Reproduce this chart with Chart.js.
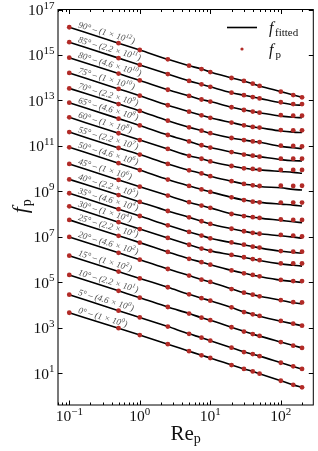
<!DOCTYPE html>
<html>
<head>
<meta charset="utf-8">
<script src="https://cdn.jsdelivr.net/npm/chart.js@4.4.0/dist/chart.umd.min.js"></script>
<style>
  html, body { margin: 0; padding: 0; background: #fff; }
  canvas { display: block; }
</style>
</head>
<body>
<canvas id="chart" width="318" height="451"></canvas>
<script>
// particle Reynolds numbers (x of every point)
const reP = [0.1, 0.5, 1, 2.5, 5, 7.5, 10, 20, 30, 40, 50, 100, 150, 200];

// inclination angles and the vertical shift used to separate the curves
const angles = [0, 5, 10, 15, 20, 25, 30, 35, 40, 45, 50, 55, 60, 65, 70, 75, 80, 85, 90];
const shiftMant = [1, 4.6, 2.2, 1, 4.6, 2.2, 1, 4.6, 2.2, 1, 4.6, 2.2, 1, 4.6, 2.2, 1, 4.6, 2.2, 1];
const shiftExp = [0, 0, 1, 2, 2, 3, 4, 4, 5, 6, 6, 7, 8, 8, 9, 10, 10, 11, 12];

// log10 of f_p (before the shift), one row per angle
const fpLog = [
  [3.67, 2.99, 2.69, 2.29, 1.98, 1.80, 1.68, 1.37, 1.20, 1.09, 0.99, 0.68, 0.50, 0.39],
  [3.80, 3.10, 2.80, 2.40, 2.08, 1.91, 1.78, 1.47, 1.28, 1.19, 1.10, 0.81, 0.65, 0.54],
  [3.99, 3.29, 2.99, 2.58, 2.29, 2.11, 2.00, 1.69, 1.50, 1.39, 1.31, 1.04, 0.88, 0.78],
  [4.18, 3.48, 3.18, 2.79, 2.48, 2.31, 2.20, 1.91, 1.70, 1.60, 1.53, 1.31, 1.19, 1.10],
  [4.34, 3.64, 3.34, 2.93, 2.64, 2.46, 2.36, 2.05, 1.89, 1.80, 1.73, 1.56, 1.47, 1.46],
  [4.41, 3.71, 3.41, 3.00, 2.70, 2.55, 2.44, 2.19, 2.06, 1.99, 1.93, 1.77, 1.72, 1.72],
  [4.35, 3.65, 3.35, 2.96, 2.66, 2.49, 2.39, 2.21, 2.11, 2.03, 1.98, 1.84, 1.84, 1.84],
  [4.26, 3.56, 3.26, 2.85, 2.56, 2.40, 2.28, 2.10, 2.00, 1.91, 1.87, 1.72, 1.69, 1.69],
  [4.19, 3.50, 3.20, 2.80, 2.52, 2.35, 2.23, 2.02, 1.91, 1.84, 1.80, 1.75, 1.72, 1.68],
  [4.21, 3.51, 3.21, 2.82, 2.53, 2.38, 2.28, 2.01, 1.92, 1.87, 1.84, 1.77, 1.75, 1.75],
  [4.28, 3.58, 3.28, 2.86, 2.58, 2.43, 2.32, 2.08, 1.96, 1.89, 1.86, 1.85, 1.85, 1.85],
  [4.27, 3.57, 3.28, 2.87, 2.59, 2.45, 2.33, 2.11, 1.99, 1.93, 1.90, 1.91, 1.90, 1.91],
  [4.26, 3.56, 3.26, 2.87, 2.57, 2.44, 2.32, 2.12, 2.02, 1.99, 1.96, 1.95, 1.95, 1.95],
  [4.24, 3.54, 3.24, 2.82, 2.54, 2.37, 2.27, 2.07, 1.96, 1.91, 1.87, 1.78, 1.78, 1.78],
  [4.19, 3.50, 3.20, 2.77, 2.48, 2.33, 2.22, 2.01, 1.92, 1.86, 1.83, 1.67, 1.66, 1.64],
  [4.21, 3.51, 3.21, 2.79, 2.51, 2.35, 2.24, 2.03, 1.91, 1.84, 1.81, 1.70, 1.69, 1.69],
  [4.22, 3.52, 3.22, 2.81, 2.54, 2.38, 2.29, 2.04, 1.92, 1.85, 1.80, 1.69, 1.67, 1.67],
  [4.22, 3.52, 3.22, 2.82, 2.52, 2.37, 2.26, 2.00, 1.89, 1.81, 1.75, 1.58, 1.50, 1.50],
  [4.22, 3.52, 3.22, 2.81, 2.53, 2.38, 2.25, 1.99, 1.86, 1.74, 1.64, 1.39, 1.24, 1.14]
];

// log10 of the fitted curve at the same Re_p
const fitLog = [
  [3.67, 2.99, 2.69, 2.29, 1.98, 1.80, 1.68, 1.37, 1.20, 1.09, 0.99, 0.68, 0.50, 0.39],
  [3.80, 3.10, 2.80, 2.40, 2.08, 1.91, 1.78, 1.47, 1.29, 1.18, 1.10, 0.81, 0.64, 0.53],
  [3.99, 3.29, 2.99, 2.58, 2.29, 2.11, 2.00, 1.69, 1.51, 1.39, 1.30, 1.04, 0.89, 0.78],
  [4.18, 3.48, 3.18, 2.79, 2.48, 2.31, 2.20, 1.90, 1.71, 1.60, 1.52, 1.30, 1.18, 1.10],
  [4.34, 3.64, 3.34, 2.93, 2.64, 2.47, 2.36, 2.06, 1.89, 1.80, 1.73, 1.56, 1.45, 1.40],
  [4.41, 3.71, 3.41, 3.00, 2.70, 2.55, 2.44, 2.19, 2.06, 1.98, 1.92, 1.76, 1.70, 1.66],
  [4.35, 3.65, 3.35, 2.96, 2.66, 2.49, 2.39, 2.21, 2.10, 2.03, 1.97, 1.82, 1.76, 1.72],
  [4.26, 3.56, 3.26, 2.85, 2.56, 2.40, 2.28, 2.09, 1.99, 1.92, 1.86, 1.71, 1.66, 1.62],
  [4.19, 3.50, 3.20, 2.80, 2.52, 2.35, 2.23, 2.02, 1.91, 1.84, 1.80, 1.71, 1.65, 1.60],
  [4.21, 3.51, 3.21, 2.82, 2.53, 2.38, 2.28, 2.02, 1.92, 1.87, 1.83, 1.73, 1.67, 1.63],
  [4.28, 3.58, 3.28, 2.86, 2.58, 2.43, 2.32, 2.08, 1.96, 1.90, 1.86, 1.78, 1.74, 1.70],
  [4.27, 3.57, 3.28, 2.87, 2.59, 2.45, 2.33, 2.11, 1.99, 1.93, 1.88, 1.82, 1.75, 1.72],
  [4.26, 3.56, 3.26, 2.87, 2.57, 2.44, 2.32, 2.12, 2.02, 1.98, 1.95, 1.88, 1.84, 1.80],
  [4.24, 3.54, 3.24, 2.82, 2.54, 2.37, 2.27, 2.07, 1.96, 1.91, 1.87, 1.74, 1.69, 1.68],
  [4.19, 3.50, 3.20, 2.77, 2.48, 2.33, 2.22, 2.01, 1.92, 1.86, 1.82, 1.64, 1.58, 1.54],
  [4.21, 3.51, 3.21, 2.79, 2.51, 2.35, 2.24, 2.03, 1.91, 1.84, 1.80, 1.66, 1.61, 1.59],
  [4.22, 3.52, 3.22, 2.81, 2.54, 2.38, 2.29, 2.04, 1.92, 1.85, 1.80, 1.65, 1.60, 1.58],
  [4.22, 3.52, 3.22, 2.82, 2.52, 2.37, 2.26, 2.00, 1.89, 1.81, 1.75, 1.56, 1.47, 1.45],
  [4.22, 3.52, 3.22, 2.81, 2.53, 2.38, 2.25, 1.99, 1.86, 1.74, 1.64, 1.39, 1.24, 1.14]
];

// axis ticks
const xMajor = [0.1, 1, 10, 100];
const xExps = ['\u22121', '0', '1', '2'];
const yExps = [1, 3, 5, 7, 9, 11, 13, 15, 17];

const dotColor = '#b22b27';
const serif = '"Liberation Serif", "DejaVu Serif", serif';

function toPoints(i, logs) {
  const shift = shiftMant[i] * Math.pow(10, shiftExp[i]);
  return logs.map((v, k) => ({ x: reP[k], y: Math.pow(10, v) * shift }));
}

const datasets = [];
angles.forEach((a, i) => {
  datasets.push({
    label: 'fit ' + a,
    data: toPoints(i, fitLog[i]),
    showLine: true,
    pointRadius: 0,
    borderColor: '#000',
    borderWidth: 1.6,
    cubicInterpolationMode: 'monotone',
    order: 2
  });
  datasets.push({
    label: 'fp ' + a,
    data: toPoints(i, fpLog[i]),
    showLine: false,
    pointRadius: 2.4,
    pointBackgroundColor: dotColor,
    pointBorderWidth: 0,
    order: 1
  });
});

// text with a superscript, returns end x
function supText(ctx, base, sup, x, y, size, supSize, rise) {
  ctx.font = size + 'px ' + serif;
  ctx.fillText(base, x, y);
  let w = ctx.measureText(base).width;
  ctx.font = supSize + 'px ' + serif;
  ctx.fillText(sup, x + w, y - rise);
  return x + w + ctx.measureText(sup).width;
}

function supWidth(ctx, base, sup, size, supSize) {
  ctx.font = size + 'px ' + serif;
  let w = ctx.measureText(base).width;
  ctx.font = supSize + 'px ' + serif;
  return w + ctx.measureText(sup).width;
}

const framePlugin = {
  id: 'frame',
  afterDraw(chart) {
    const ctx = chart.ctx;
    const area = chart.chartArea;
    const xs = chart.scales.x;
    const ys = chart.scales.y;
    ctx.save();
    ctx.strokeStyle = '#000';
    ctx.lineWidth = 1;
    ctx.strokeRect(area.left, area.top, area.right - area.left, area.bottom - area.top);
    // left spine looks a bit heavier and grey in the original
    ctx.strokeStyle = '#777';
    ctx.lineWidth = 1.6;
    ctx.beginPath();
    ctx.moveTo(area.left, area.top);
    ctx.lineTo(area.left, area.bottom);
    ctx.stroke();
    ctx.strokeStyle = '#000';
    ctx.lineWidth = 1;

    // x ticks (inside, bottom and top)
    ctx.beginPath();
    for (let d = 0.01; d <= 1000; d *= 10) {
      for (let m = 1; m <= 9; m++) {
        const v = d * m;
        if (v < xs.min || v > xs.max) continue;
        const px = Math.round(xs.getPixelForValue(v)) + 0.5;
        const len = m === 1 ? 4.5 : 2.5;
        ctx.moveTo(px, area.bottom);
        ctx.lineTo(px, area.bottom - len);
        ctx.moveTo(px, area.top);
        ctx.lineTo(px, area.top + len);
      }
    }
    // y ticks (inside, left and right)
    yExps.forEach(e => {
      const py = Math.round(ys.getPixelForValue(Math.pow(10, e))) + 0.5;
      ctx.moveTo(area.left, py);
      ctx.lineTo(area.left + 4.5, py);
      ctx.moveTo(area.right, py);
      ctx.lineTo(area.right - 4.5, py);
    });
    ctx.stroke();

    // tick labels
    ctx.fillStyle = '#111';
    ctx.textBaseline = 'alphabetic';
    ctx.textAlign = 'left';
    yExps.forEach(e => {
      const py = ys.getPixelForValue(Math.pow(10, e));
      const w = supWidth(ctx, '10', String(e), 15.5, 11);
      supText(ctx, '10', String(e), area.left - 3.5 - w, py + 5.5, 15.5, 11, 6.5);
    });
    xMajor.forEach((v, k) => {
      const px = xs.getPixelForValue(v);
      const w = supWidth(ctx, '10', xExps[k], 15.5, 11);
      supText(ctx, '10', xExps[k], px - w / 2, area.bottom + 16, 15.5, 11, 6.5);
    });

    // axis titles
    const cx = (area.left + area.right) / 2;
    ctx.font = '21px ' + serif;
    const wRe = ctx.measureText('Re').width;
    ctx.font = '14px ' + serif;
    const wP = ctx.measureText('p').width;
    let x0 = cx - (wRe + wP) / 2;
    ctx.font = '21px ' + serif;
    ctx.fillText('Re', x0, 440);
    ctx.font = '14px ' + serif;
    ctx.fillText('p', x0 + wRe, 443);

    ctx.save();
    ctx.translate(27, (area.top + area.bottom) / 2);
    ctx.rotate(-Math.PI / 2);
    ctx.font = 'italic 22px ' + serif;
    const wf = ctx.measureText('f').width;
    ctx.fillText('f', -(wf + 6) / 2, 0);
    ctx.font = '14px ' + serif;
    ctx.fillText('p', -(wf + 6) / 2 + wf + 1, 4);
    ctx.restore();

    // legend
    ctx.strokeStyle = '#000';
    ctx.lineWidth = 1.6;
    ctx.beginPath();
    ctx.moveTo(227, 27.5);
    ctx.lineTo(257, 27.5);
    ctx.stroke();
    ctx.fillStyle = dotColor;
    ctx.beginPath();
    ctx.arc(242, 49, 1.6, 0, Math.PI * 2);
    ctx.fill();
    ctx.fillStyle = '#111';
    ctx.font = 'italic 16px ' + serif;
    ctx.fillText('f', 269, 32.5);
    ctx.fillText('f', 269, 54.5);
    ctx.font = '11px ' + serif;
    ctx.fillText('fitted', 275, 36);
    ctx.fillText('p', 275.5, 58);

    // curve labels along each line
    const slope = 16.5 * Math.PI / 180;
    ctx.fillStyle = '#505050';
    angles.forEach((a, i) => {
      const pt = toPoints(i, fitLog[i])[0];
      const px = xs.getPixelForValue(pt.x);
      const py = ys.getPixelForValue(pt.y);
      ctx.save();
      ctx.translate(px + 8.5, py + 8.5 * 0.32 - 2.8);
      ctx.rotate(slope);
      ctx.font = 'italic 9px ' + serif;
      const main = a + '\u00b0 \u2013 (' + shiftMant[i] + ' \u00d7 10';
      ctx.fillText(main, 0, 0);
      let w = ctx.measureText(main).width;
      ctx.font = 'italic 6.3px ' + serif;
      ctx.fillText(String(shiftExp[i]), w, -3.7);
      w += ctx.measureText(String(shiftExp[i])).width;
      ctx.font = 'italic 9px ' + serif;
      ctx.fillText(')', w + 0.5, 0);
      ctx.restore();
    });
    ctx.restore();
  }
};

new Chart(document.getElementById('chart'), {
  type: 'scatter',
  data: { datasets: datasets },
  options: {
    responsive: false,
    animation: false,
    devicePixelRatio: 1,
    layout: { padding: { left: 58, top: 9.5, right: 4.7, bottom: 46 } },
    scales: {
      x: { type: 'logarithmic', min: 0.0692, max: 289, display: false },
      y: { type: 'logarithmic', min: 0.412, max: 1e17, display: false }
    },
    plugins: {
      legend: { display: false },
      tooltip: { enabled: false }
    }
  },
  plugins: [framePlugin]
});
</script>
</body>
</html>
